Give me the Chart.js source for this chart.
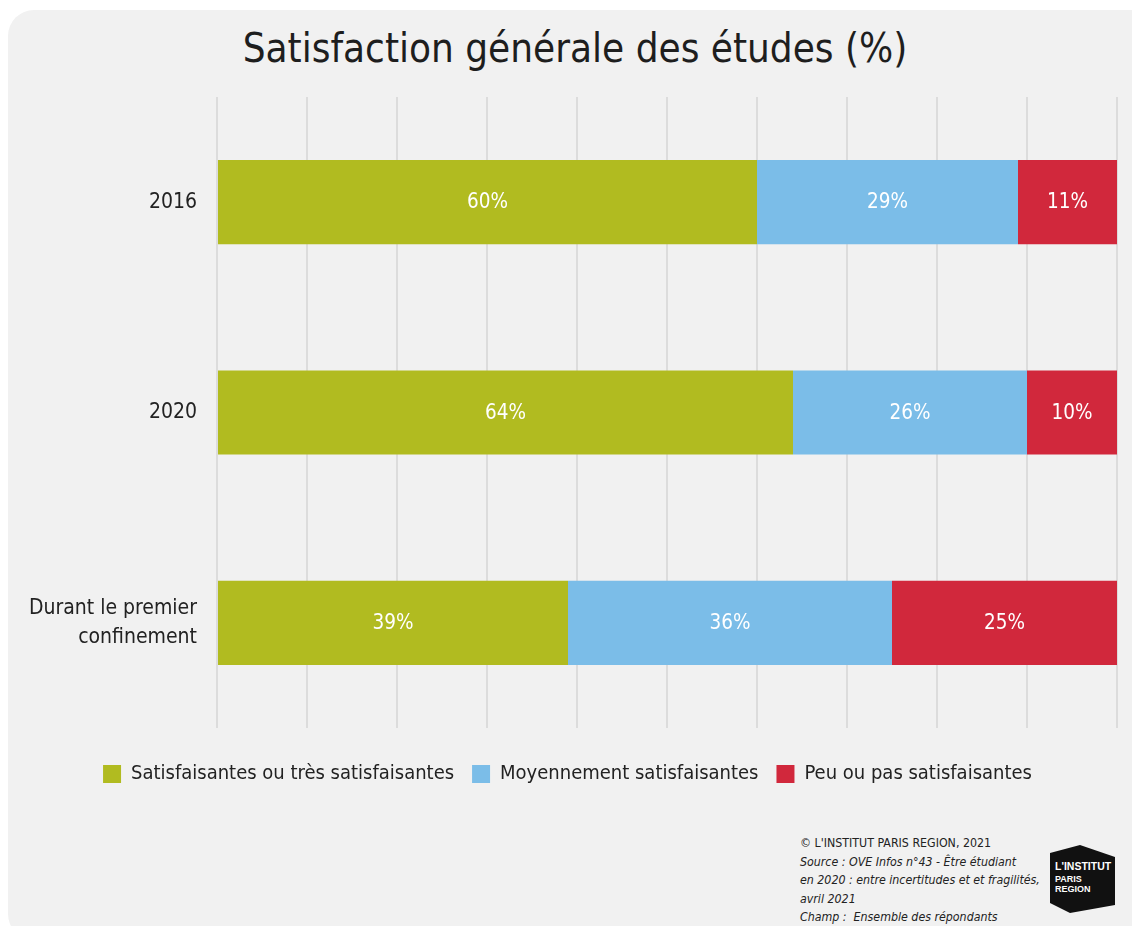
<!DOCTYPE html>
<html lang="fr">
<head>
<meta charset="utf-8">
<title>Satisfaction générale des études</title>
<script src="https://cdn.jsdelivr.net/npm/chart.js@4.4.1/dist/chart.umd.min.js"></script>
<style>
  html, body { margin: 0; padding: 0; background: #fff; }
  body { width: 1132px; height: 926px; position: relative; overflow: hidden;
         font-family: "Liberation Sans Narrow", "DejaVu Sans Condensed", Roboto, sans-serif; color: #222; }
  #card { position: absolute; left: 8px; top: 10px; width: 1150px; height: 930px;
          background: #f1f1f1; border-radius: 26px; }
  #title { position: absolute; left: 0; width: 1150px; top: 25px; text-align: center;
           font-size: 40px; color: #1e1e1e; letter-spacing: 0; }
  #wrap { position: absolute; left: 0; top: 0; width: 1132px; height: 794px; }
  #notes { position: absolute; left: 800px; top: 834px; font-size: 12.3px; line-height: 18.5px; color: #222; }
  #notes i { font-style: italic; }
  #logo { position: absolute; left: 1048px; top: 843px; }
</style>
</head>
<body>
<div id="card"></div>
<div id="title">Satisfaction générale des études (%)</div>
<div id="wrap"><canvas id="chart"></canvas></div>
<div id="notes">
  © L'INSTITUT PARIS REGION, 2021<br>
  <i>Source : OVE Infos n°43 - Être étudiant<br>
  en 2020 : entre incertitudes et et fragilités,<br>
  avril 2021<br>
  Champ :&nbsp; Ensemble des répondants</i>
</div>
<svg id="logo" width="74" height="74" viewBox="0 0 74 74">
  <polygon points="2,10 32,2 67,14 67,62 22,70 2,60" fill="#111"/>
  <text x="7" y="27" fill="#fff" font-family="Liberation Sans, Arial, sans-serif" font-weight="bold" font-size="10.5">L'INSTITUT</text>
  <text x="7" y="39" fill="#fff" font-family="Liberation Sans, Arial, sans-serif" font-weight="bold" font-size="9">PARIS</text>
  <text x="7" y="49" fill="#fff" font-family="Liberation Sans, Arial, sans-serif" font-weight="bold" font-size="9">REGION</text>
</svg>
<script>
const categories = ["2016", "2020", ["Durant le premier", "confinement"]];
const satisfaits = [60, 64, 39];
const moyennement = [29, 26, 36];
const peuOuPas = [11, 10, 25];
const seriesNames = ["Satisfaisantes ou très satisfaisantes", "Moyennement satisfaisantes", "Peu ou pas satisfaisantes"];
const colors = ["#b1bb20", "#7bbde8", "#d1283c"];
const xTicks = [0, 10, 20, 30, 40, 50, 60, 70, 80, 90, 100];

const FONT = '"Liberation Sans Narrow", "DejaVu Sans Condensed", Roboto, sans-serif';

// white value labels in the middle of each segment
const valueLabels = {
  id: "valueLabels",
  afterDatasetsDraw(chart) {
    const ctx = chart.ctx;
    ctx.save();
    ctx.fillStyle = "#fff";
    ctx.font = "20.5px " + FONT;
    ctx.textAlign = "center";
    ctx.textBaseline = "middle";
    chart.data.datasets.forEach((ds, i) => {
      chart.getDatasetMeta(i).data.forEach((bar, j) => {
        const mid = (bar.x + bar.base) / 2;
        ctx.fillText(ds.data[j] + "%", mid, bar.y + 1);
      });
    });
    ctx.restore();
  }
};

// legend is centred on the card, a bit right of the canvas centre
const legendShift = {
  id: "legendShift",
  afterLayout(chart) {
    chart.legend.left += 9;
    chart.legend.right += 9;
  }
};

new Chart(document.getElementById("chart"), {
  type: "bar",
  data: {
    labels: categories,
    datasets: [
      { label: seriesNames[0], data: satisfaits, backgroundColor: colors[0] },
      { label: seriesNames[1], data: moyennement, backgroundColor: colors[1] },
      { label: seriesNames[2], data: peuOuPas, backgroundColor: colors[2] }
    ]
  },
  options: {
    indexAxis: "y",
    responsive: true,
    maintainAspectRatio: false,
    animation: false,
    datasets: { bar: { barPercentage: 0.4, categoryPercentage: 1 } },
    layout: { padding: { top: 97, right: 15, left: 0, bottom: 0 } },
    scales: {
      x: {
        stacked: true,
        min: 0, max: 100,
        afterBuildTicks: (axis) => { axis.ticks = xTicks.map(v => ({ value: v })); },
        afterFit: (axis) => { axis.height = 18; },
        ticks: { display: false },
        border: { display: false },
        grid: { color: "#dcdcdc", lineWidth: 2, drawTicks: false }
      },
      y: {
        stacked: true,
        afterFit: (axis) => { axis.width = 217; },
        ticks: { color: "#222", padding: 12, font: { family: FONT, size: 21, lineHeight: 1.38 } },
        border: { display: false },
        grid: { display: false }
      }
    },
    plugins: {
      legend: {
        position: "bottom",
        labels: {
          color: "#222",
          boxWidth: 18, boxHeight: 18,
          padding: 18,
          font: { family: FONT, size: 20 }
        }
      },
      tooltip: { enabled: false }
    }
  },
  plugins: [valueLabels, legendShift]
});
</script>
</body>
</html>
